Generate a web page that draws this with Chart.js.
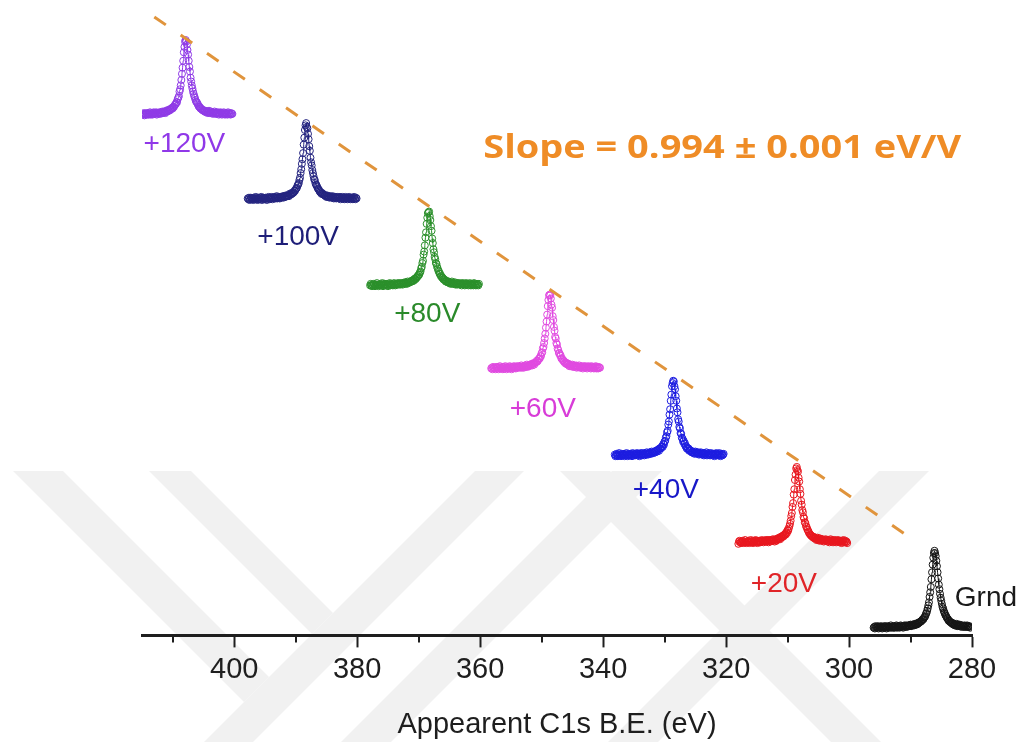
<!DOCTYPE html>
<html lang="en">
<head>
<meta charset="utf-8">
<title>C1s peak shift under sample bias</title>
<script src="https://cdn.jsdelivr.net/npm/chart.js@4.4.0/dist/chart.umd.min.js"></script>
<style>
  html, body { margin: 0; padding: 0; background: #ffffff; }
  #wrap { width: 1018px; height: 742px; }
</style>
</head>
<body>
<div id="wrap"><canvas id="chartC1s" width="1018" height="742"></canvas></div>
<script>
// C1s region scans recorded at different sample bias, stacked bottom (Grnd) to top (+120V)
const seriesNames = ['+120V', '+100V', '+80V', '+60V', '+40V', '+20V', 'Grnd'];
const scanStart = [414.9, 397.8, 377.9, 358.2, 338.1, 318.0, 296.0]; // eV of first point
const scanStep = 0.1;                                                 // eV per point
const stackOffset = [674, 564, 452, 344, 231, 118, 7];                // vertical offset of each scan

const counts120 = [
  4,3,5,2,4,3,5,4,3,5, 3,4,6,3,5,4,3,5,6,4, 5,4,6,3,5,5,4,6,5,4, 6,5,7,5,6,7,6,5,8,7,
  7,9,8,8,10,9,10,11,12,11, 13,13,15,16,17,19,19,23,25,27, 33,36,41,48,56,64,73,84,91,98,
  100,
  98,94,87,81,73,65,59,51,46,41, 37,33,30,27,25,22,20,19,18,16, 14,13,13,11,11,10,9,9,8,8,
  7,8,6,7,7,5,6,8,5,6, 7,5,6,4,6,5,7,4,5,6, 4,5,6,3,5,4,6,5,3,5, 4,6,4,3,5,5,4,3,6,4,
  5,4,3,5,4,4
];
const counts100 = [
  4,3,5,2,3, 5,4,3,4,2,5,3,4,6,3, 4,2,5,3,4,3,5,6,2,4, 5,3,4,3,5,4,2,5,4,6,
  3,5,4,4,6,3,5,5,4,6, 4,5,7,4,5,6,5,4,6,5, 6,6,7,5,7,6,6,8,7,7,
  8,8,7,10,9,9,11,10,11,12, 12,14,14,16,17,18,21,22,24,28, 31,37,42,49,55,63,74,83,93,99,
  102,
  97,95,88,81,72,66,57,51,47,41, 37,33,29,28,24,22,21,19,17,16, 15,13,12,12,10,11,10,9,9,8,
  8,7,6,8,6,7,6,5,7,6, 6,5,7,5,4,6,5,6,4,5, 6,5,4,5,6,3,5,4,6,4, 5,3,4,6,5,4,3,5,4,6,
  4,3,5,4,5,3,4,6,4,3, 5,4
];
const counts80 = [
  3,5,3,2,4, 3,5,4,2,3,4,6,3,4,2, 4,3,5,4,3,6,2,4,5,3, 4,5,3,4,2,5,4,6,3,4,
  5,4,3,5,6,4,3,5,4,5, 6,4,5,6,4,5,6,5,4,6, 6,7,5,6,7,5,8,6,7,7,
  7,8,9,8,9,10,9,11,12,11, 13,13,15,15,17,17,20,21,25,27, 32,35,43,47,55,65,72,83,91,97,
  98,
  99,93,88,80,74,64,58,50,46,40, 37,32,31,27,25,22,21,18,18,15, 15,13,13,11,11,10,10,8,9,8,
  7,7,8,6,7,5,6,8,5,6, 6,5,7,4,5,6,4,6,5,5, 4,6,5,3,5,6,4,5,3,4, 6,4,5,5,3,4,6,4,3,5,
  5,4,3,6,4,5,3,4,5,4, 3,5
];
const counts60 = [
  3,4,2,5,3, 4,3,2,5,4,3,5,2,4,6, 3,4,3,5,2,4,5,3,6,4, 2,4,5,3,4,6,3,5,2,4,
  5,3,6,4,5,3,4,6,5,4, 5,6,4,5,7,4,5,6,4,6, 7,5,6,8,5,6,7,6,8,7,
  8,9,7,9,10,8,10,11,11,13, 12,13,15,16,16,19,19,23,24,29, 31,36,42,48,56,64,73,84,92,98,
  99,
  98,94,86,82,71,66,57,52,44,42, 36,34,29,27,23,23,20,20,16,16, 14,14,12,12,10,11,9,10,8,8,
  9,6,8,6,7,6,8,5,7,6, 5,6,7,4,6,5,5,7,4,5, 6,4,5,3,6,5,4,6,4,5, 3,5,6,4,4,5,3,6,4,5,
  4,3,5,4,6,3,5,4,3,5, 4,4
];
const counts40 = [
  4,2,3,5,3, 2,4,6,3,4,2,5,3,4,3, 5,2,4,3,6,4,2,5,3,4, 3,5,4,2,6,3,5,4,3,5,
  4,6,3,5,4,2,5,6,4,3, 6,4,5,3,6,5,4,7,5,4, 6,5,7,6,5,8,6,7,6,8,
  8,7,9,9,8,10,11,9,12,12, 12,14,15,14,18,17,21,22,26,28, 33,35,43,47,56,63,74,82,93,97,
  100,
  99,93,89,80,74,64,59,50,47,40, 38,32,31,26,25,21,22,18,19,15, 15,12,13,11,12,9,10,9,9,7,
  7,8,6,7,5,8,6,7,6,5, 7,4,6,5,7,5,4,6,5,3, 6,4,5,7,3,5,4,6,4,3, 5,6,4,3,5,4,2,5,4,6,
  3,4,5,3,6,4,2,4,5,3, 4,5
];
const counts20 = [
  1,4,5,3,2, 4,3,5,2,4,3,6,3,2,4, 3,5,4,2,3,6,4,3,5,2, 4,3,5,6,3,4,2,5,4,3,
  5,3,4,6,4,5,3,5,4,6, 5,4,6,5,3,6,5,4,6,5, 5,7,5,6,4,7,6,5,7,8,
  7,9,8,7,10,9,11,10,12,11, 13,14,13,16,15,19,18,21,24,27, 31,37,41,49,54,65,72,84,91,99,
  101,
  97,95,87,82,72,66,57,52,45,42, 36,34,29,28,24,23,20,19,17,15, 14,13,12,11,11,10,9,10,8,9,
  8,6,7,9,6,7,5,8,6,7, 5,7,6,4,6,5,7,5,6,4, 5,6,3,5,7,4,5,6,3,5, 4,6,5,3,5,4,6,4,5,3,
  5,4,2,5,4,6,3,4,5,3, 4,2
];
const countsGrnd = [
  3,4,2,5,3,4,3,5,2,4, 3,4,5,3,2,4,3,5,4,3, 5,2,4,3,5,4,3,4,6,3, 4,5,3,4,3,5,4,6,3,5,
  4,5,3,4,6,5,4,5,3,5, 6,4,5,6,4,5,6,5,6,5, 7,5,6,7,6,7,6,8,7,
  8,7,9,8,9,10,10,11,11,12, 13,14,14,16,17,18,21,22,25,28, 32,36,43,49,56,66,75,85,94,100,
  103,
  100,96,90,83,75,67,59,53,47,42, 38,34,30,28,25,23,21,19,18,16, 15,14,12,12,11,10,10,9,8,9,
  7,8,6,7,6,8,5,7,6,5, 7,5,6,4,6,5,5,4,6,5, 4,5,6,4,5,4,5,3
];
const spectra = [counts120, counts100, counts80, counts60, counts40, counts20, countsGrnd];

// peak-top trend line (slope of apparent B.E. vs bias)
const guideBE = [413.0, 290.6];
const guideCounts = [804, 130];
const slopeText = 'Slope = 0.994 \u00B1 0.001 eV/V';

const majorTicks = [400, 380, 360, 340, 320, 300, 280];
const minorTicks = [410, 390, 370, 350, 330, 310, 290];

// styles
const markerColors = ['#8f3ae6', '#23237f', '#2a8f2a', '#e04ae0', '#1c1ce0', '#e8161e', '#151515'];
const labelColors  = ['#9038e8', '#1e1e78', '#2a8a2a', '#d83cd8', '#1818c8', '#e02428', '#1a1a1a'];
const labelSpot = [[408.1, 639], [389.6, 517], [368.6, 418], [349.8, 294], [329.8, 188], [310.6, 66], [282.8, 48]];
const slopeSpot = [359.5, 620];
const slopeWidth = 478;
const axisInk = '#1e1e1e';
const sansFont = '"Liberation Sans", Arial, sans-serif';

function buildSpectrum(k) {
  return spectra[k].map((c, i) => ({
    x: +(scanStart[k] - i * scanStep).toFixed(2),
    y: c + stackOffset[k]
  }));
}

const datasets = seriesNames.map((name, k) => ({
  label: name,
  data: buildSpectrum(k),
  showLine: true,
  borderColor: markerColors[k],
  borderWidth: 1,
  pointRadius: 3.5,
  pointBorderWidth: 1,
  pointBorderColor: markerColors[k],
  pointBackgroundColor: 'rgba(255,255,255,0)',
  order: 1
}));

datasets.push({
  label: 'trend',
  data: guideBE.map((be, i) => ({ x: be, y: guideCounts[i] })),
  showLine: true,
  borderColor: '#e0943c',
  borderWidth: 3,
  borderDash: [14, 18],
  pointRadius: 0,
  order: -1
});

// light background watermark, minor ticks, series labels and the slope note
const decorPlugin = {
  id: 'decor',
  beforeDraw(chart) {
    const ctx = chart.ctx;
    const bands = [
      [[13, 471], [63, 471], [269, 677], [244, 702]],
      [[149, 471], [191, 471], [333, 613], [312, 634]],
      [[475, 471], [524, 471], [253, 742], [204, 742]],
      [[612, 471], [662, 471], [391, 742], [341, 742]],
      [[560, 471], [610, 471], [881, 742], [831, 742]],
      [[879, 471], [929, 471], [658, 742], [608, 742]]
    ];
    ctx.save();
    ctx.fillStyle = '#f1f1f1';
    bands.forEach(b => {
      ctx.beginPath();
      ctx.moveTo(b[0][0], b[0][1]);
      for (let i = 1; i < b.length; i++) ctx.lineTo(b[i][0], b[i][1]);
      ctx.closePath();
      ctx.fill();
    });
    ctx.restore();
  },
  afterDraw(chart) {
    const ctx = chart.ctx;
    const xs = chart.scales.x;
    const ys = chart.scales.y;
    const base = chart.chartArea.bottom;

    ctx.save();
    ctx.strokeStyle = axisInk;
    ctx.lineWidth = 2;
    minorTicks.forEach(v => {
      const px = Math.round(xs.getPixelForValue(v));
      ctx.beginPath();
      ctx.moveTo(px, base);
      ctx.lineTo(px, base + 7);
      ctx.stroke();
    });

    ctx.font = '28px ' + sansFont;
    ctx.textBaseline = 'middle';
    seriesNames.forEach((name, k) => {
      ctx.fillStyle = labelColors[k];
      ctx.textAlign = name === 'Grnd' ? 'left' : 'center';
      ctx.fillText(name, xs.getPixelForValue(labelSpot[k][0]), ys.getPixelForValue(labelSpot[k][1]));
    });

    // bold note, widened to its box
    ctx.font = 'bold 32px "Open Sans", Lato, sans-serif';
    ctx.textAlign = 'left';
    ctx.textBaseline = 'alphabetic';
    const w = ctx.measureText(slopeText).width;
    ctx.translate(xs.getPixelForValue(slopeSpot[0]), ys.getPixelForValue(slopeSpot[1]));
    ctx.scale(slopeWidth / w, 1);
    ctx.fillStyle = '#ef8c26';
    ctx.fillText(slopeText, 0, 0);
    ctx.restore();
  }
};

new Chart(document.getElementById('chartC1s'), {
  type: 'scatter',
  data: { datasets: datasets },
  plugins: [decorPlugin],
  options: {
    responsive: false,
    animation: false,
    events: [],
    layout: { padding: { left: 142, right: 46, top: 10, bottom: 0 } },
    plugins: {
      legend: { display: false },
      tooltip: { enabled: false }
    },
    scales: {
      x: {
        type: 'linear',
        reverse: true,
        min: 280,
        max: 415,
        afterBuildTicks: axis => { axis.ticks = majorTicks.map(v => ({ value: v })); },
        ticks: {
          color: axisInk,
          font: { family: sansFont, size: 29 },
          padding: 5,
          maxRotation: 0,
          autoSkip: false
        },
        grid: {
          display: true,
          drawOnChartArea: false,
          drawTicks: true,
          tickLength: 12,
          tickWidth: 2,
          tickColor: axisInk
        },
        border: { display: true, color: axisInk, width: 3 },
        title: {
          display: true,
          text: 'Appearent C1s B.E. (eV)',
          color: axisInk,
          font: { family: sansFont, size: 29 },
          padding: { top: 15, bottom: 0 }
        }
      },
      y: { display: false, min: 0, max: 813 }
    }
  }
});
</script>
</body>
</html>
